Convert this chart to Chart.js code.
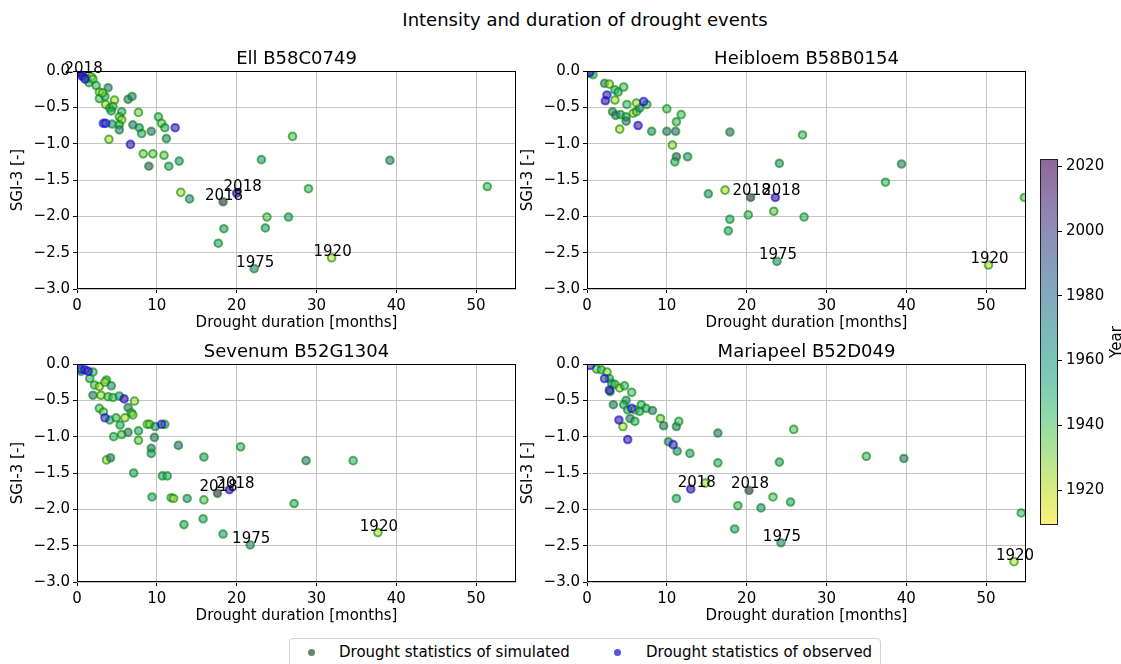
<!DOCTYPE html>
<html>
<head>
<meta charset="utf-8">
<script src="https://cdn.jsdelivr.net/npm/chart.js@4.4.1/dist/chart.umd.min.js"></script>
<style>
  body { margin: 0; width: 1121px; height: 664px; background: #fff; position: relative; overflow: hidden;
         font-family: 'DejaVu Sans', sans-serif; color: #000; }
  .plot { position: absolute; }
  #title { position: absolute; top: 11px; left: 0; width: 1170px; text-align: center; font-size: 18px; line-height: 18px; }
  #legend { position: absolute; left: 289px; top: 638px; width: 592px; height: 40px; border: 1px solid #d0d0d0;
            border-radius: 4px; box-sizing: border-box; }
  #legend .dot { position: absolute; top: 10px; width: 7px; height: 7px; border-radius: 50%; }
  #legend .lt { position: absolute; top: 0; line-height: 27px; font-size: 15px; white-space: nowrap; }
</style>
</head>
<body>
<div id="title">Intensity and duration of drought events</div>

<canvas id="ell" class="plot" width="545" height="290" style="left:0;top:45px"></canvas>
<canvas id="heibloem" class="plot" width="545" height="290" style="left:510px;top:45px"></canvas>
<canvas id="sevenum" class="plot" width="545" height="290" style="left:0;top:338px"></canvas>
<canvas id="mariapeel" class="plot" width="545" height="290" style="left:510px;top:338px"></canvas>
<canvas id="cbar" class="plot" width="91" height="390" style="left:1030px;top:150px"></canvas>

<div id="legend">
  <span class="dot" style="left:18px;background:rgba(40,100,50,0.75)"></span>
  <span class="lt" style="left:49px">Drought statistics of simulated</span>
  <span class="dot" style="left:324px;background:rgba(30,30,200,0.75)"></span>
  <span class="lt" style="left:356px">Drought statistics of observed</span>
</div>

<script>
// colour range of the year colorbar
const cbarMin = 1909.2;
const cbarMax = 2022.3;
const cbarTicks = [1920, 1940, 1960, 1980, 2000, 2020];
// events whose year is written next to the marker
const labelYears = [1920, 1975, 2018];

// [duration (months), SGI-3, year]
const ellSim = [
  [0.7,-0.05,2018],[1.2,-0.10,1985],[1.5,-0.16,1950],[1.8,-0.08,1922],[2.0,-0.11,1935],[2.4,-0.20,1945],
  [2.8,-0.29,1925],[2.8,-0.38,1940],[3.5,-0.35,1950],[3.9,-0.23,1985],[3.2,-0.30,1930],[3.6,-0.46,1921],
  [4.1,-0.51,1945],[4.7,-0.40,1921],[4.5,-0.49,1940],[4.3,-0.55,1955],[5.6,-0.56,1950],[5.3,-0.63,1938],
  [5.6,-0.67,1922],[5.3,-0.74,1948],[5.3,-0.81,1972],[4.4,-0.73,1970],[4.0,-0.94,1921],[6.4,-0.39,1980],
  [6.9,-0.35,1978],[7.7,-0.57,1930],[7.0,-0.74,1985],[7.8,-0.78,1965],[8.1,-0.86,1955],[9.3,-0.83,1990],
  [10.2,-0.63,1945],[10.6,-0.72,1935],[11.0,-0.78,1950],[11.2,-0.93,1974],[8.3,-1.14,1930],[9.5,-1.14,1932],
  [10.9,-1.16,1935],[9.0,-1.31,2000],[11.5,-1.31,1958],[12.8,-1.24,1965],[13.0,-1.67,1923],[14.1,-1.76,1970],
  [18.3,-1.80,2018],[23.1,-1.22,1962],[27.0,-0.90,1940],[29.0,-1.62,1945],[23.8,-2.01,1938],[26.5,-2.01,1960],
  [23.6,-2.16,1958],[18.4,-2.17,1963],[17.7,-2.37,1955],[22.2,-2.72,1975],[31.9,-2.57,1920],[39.2,-1.23,1980],
  [51.4,-1.59,1945]
];
const ellObs = [
  [0.3,-0.02,2005],[0.6,-0.07,2010],[1.0,-0.11,1998],[3.3,-0.72,2003],[3.6,-0.72,1995],[6.7,-1.01,2015],
  [12.3,-0.78,2011],[20.0,-1.68,2018]
];

const heibloemSim = [
  [0.4,-0.03,1960],[0.75,-0.05,1945],[2.2,-0.17,1985],[2.8,-0.18,1922],[3.5,-0.26,1945],[3.9,-0.29,1950],
  [4.6,-0.22,1940],[3.5,-0.40,1921],[3.2,-0.56,1980],[3.6,-0.61,1985],[4.2,-0.60,1965],[4.9,-0.63,1955],
  [4.9,-0.69,1985],[5.0,-0.46,1945],[5.8,-0.58,1922],[6.2,-0.56,1935],[6.6,-0.51,1974],[6.2,-0.44,1923],
  [7.5,-0.46,1945],[4.1,-0.80,1921],[8.1,-0.83,1970],[10.0,-0.52,1940],[10.0,-0.83,1985],[11.1,-0.83,1990],
  [11.2,-0.70,1945],[11.8,-0.60,1942],[10.7,-1.02,1924],[11.2,-1.18,2000],[11.0,-1.25,1950],[12.6,-1.18,1965],
  [15.2,-1.69,1970],[17.3,-1.64,1921],[17.9,-0.84,1985],[20.5,-1.74,2018],[23.4,-1.93,1935],[20.2,-1.98,1945],
  [17.9,-2.04,1955],[17.7,-2.20,1958],[24.1,-1.27,1965],[27.0,-0.88,1945],[27.2,-2.01,1948],[23.8,-2.62,1975],
  [37.4,-1.53,1945],[39.4,-1.28,1980],[54.8,-1.74,1940],[50.3,-2.67,1920]
];
const heibloemObs = [
  [0.3,-0.02,2000],[2.5,-0.33,2010],[2.3,-0.41,2015],[7.1,-0.42,1998],[6.4,-0.75,2012],[23.6,-1.74,2018]
];

const sevenumSim = [
  [0.5,-0.10,1945],[2.0,-0.11,1945],[1.6,-0.20,1950],[2.2,-0.29,1940],[2.8,-0.31,1922],[2.0,-0.43,1985],
  [3.0,-0.43,1921],[3.7,-0.22,1945],[3.5,-0.25,1923],[4.3,-0.30,1970],[3.9,-0.45,1940],[4.5,-0.46,1945],
  [5.3,-0.44,1955],[7.2,-0.51,1922],[2.8,-0.61,1940],[3.3,-0.66,1935],[4.1,-0.77,1950],[4.9,-0.74,1945],
  [5.4,-0.84,1955],[6.0,-0.74,1921],[6.4,-0.60,1985],[6.8,-0.67,1942],[7.0,-0.70,1930],[4.6,-1.00,1950],
  [5.6,-0.97,1940],[6.4,-0.94,1985],[7.7,-0.92,1955],[7.7,-1.05,1935],[8.8,-0.83,1921],[9.1,-0.83,1935],
  [9.8,-0.86,1965],[11.0,-0.83,1950],[9.7,-1.01,1985],[9.3,-1.16,1980],[9.3,-1.23,1965],[12.7,-1.12,1990],
  [3.7,-1.32,1922],[4.2,-1.29,1985],[7.1,-1.50,1960],[10.7,-1.54,1955],[11.3,-1.54,1950],[9.4,-1.83,1955],
  [11.8,-1.84,1935],[12.1,-1.85,1924],[13.8,-1.85,1965],[13.4,-2.21,1955],[15.9,-1.87,1938],[15.8,-2.13,1955],
  [15.9,-1.28,1958],[17.6,-1.78,2018],[18.3,-2.34,1958],[21.7,-2.49,1975],[20.5,-1.14,1945],[27.2,-1.92,1950],
  [28.7,-1.33,1980],[34.6,-1.33,1948],[37.7,-2.32,1920]
];
const sevenumObs = [
  [0.5,-0.07,2000],[1.0,-0.08,1995],[1.4,-0.10,2005],[5.9,-0.48,2015],[3.5,-0.74,1998],[10.6,-0.83,2003],
  [19.1,-1.73,2018]
];

const mariapeelSim = [
  [1.2,-0.07,1935],[1.8,-0.08,1945],[2.5,-0.11,1923],[2.8,-0.20,1950],[3.1,-0.27,1955],[3.5,-0.28,1945],
  [2.9,-0.38,1965],[4.1,-0.33,1921],[4.7,-0.30,1945],[3.3,-0.56,1985],[5.6,-0.39,1942],[4.9,-0.50,1970],
  [4.6,-0.56,1955],[5.1,-0.63,1950],[6.0,-0.63,1922],[6.8,-0.56,1945],[7.4,-0.61,1950],[6.6,-0.65,1955],
  [8.2,-0.64,1985],[4.5,-0.86,1921],[5.4,-0.75,1985],[6.0,-0.79,1950],[9.2,-0.75,1930],[9.6,-0.85,1985],
  [11.2,-0.86,1985],[11.5,-0.79,1945],[10.2,-1.07,1980],[11.3,-1.20,1974],[12.9,-1.23,1960],[16.4,-0.95,1985],
  [16.4,-1.36,1950],[24.1,-1.35,1960],[25.9,-0.90,1940],[14.8,-1.64,1922],[11.2,-1.85,1955],[20.3,-1.74,2018],
  [18.9,-1.95,1945],[23.3,-1.83,1940],[21.8,-1.98,1965],[25.5,-1.90,1955],[18.5,-2.27,1955],[24.3,-2.46,1975],
  [35.0,-1.27,1945],[39.7,-1.30,1985],[54.4,-2.05,1945],[53.5,-2.72,1920]
];
const mariapeelObs = [
  [0.4,-0.02,2000],[2.2,-0.20,1995],[2.8,-0.36,2008],[5.6,-0.61,1998],[4.0,-0.77,2015],[5.1,-1.04,2014],
  [10.8,-1.11,2003],[13.0,-1.72,2018]
];

const FONT = "'DejaVu Sans', sans-serif";
Chart.defaults.font.family = FONT;
Chart.defaults.font.size = 15;
Chart.defaults.color = '#000';

// viridis, reversed for the year colours
const VIRIDIS = ['#440154','#482475','#414487','#355f8d','#2a788e','#21918c','#22a884','#44bf70','#7ad151','#bddf26','#fde725'];
function hexRgb(h) { return [1, 3, 5].map(i => parseInt(h.substr(i, 2), 16)); }
function viridis(t) {
  t = Math.min(1, Math.max(0, t));
  const p = t * 10, i = Math.min(9, Math.floor(p)), f = p - i;
  const a = hexRgb(VIRIDIS[i]), b = hexRgb(VIRIDIS[i + 1]);
  return a.map((v, k) => Math.round(v + (b[k] - v) * f));
}
function yearColor(year, alpha) {
  const c = viridis(1 - (year - cbarMin) / (cbarMax - cbarMin));
  return `rgba(${c[0]},${c[1]},${c[2]},${alpha})`;
}
const fmtSgi = v => v === 0 ? '0.0' : '\u2212' + Math.abs(v).toFixed(1);

// frame, subplot title and year annotations
const subplotDecor = {
  id: 'subplotDecor',
  afterDatasetsDraw(chart) {
    const ctx = chart.ctx, ca = chart.chartArea;
    ctx.save();
    ctx.font = '15px ' + FONT;
    ctx.fillStyle = '#000';
    ctx.textAlign = 'center';
    ctx.textBaseline = 'alphabetic';
    chart.data.datasets.forEach((ds, d) => {
      const meta = chart.getDatasetMeta(d);
      ds.data.forEach((p, i) => {
        if (!labelYears.includes(p.year)) return;
        const el = meta.data[i];
        ctx.fillText(String(p.year), el.x + ds.labelDx, el.y - 2);
      });
    });
    ctx.strokeStyle = '#000';
    ctx.lineWidth = 1;
    ctx.strokeRect(Math.round(ca.left) + 0.5, Math.round(ca.top) + 0.5,
                   Math.round(ca.right - ca.left) - 1, Math.round(ca.bottom - ca.top) - 1);
    ctx.font = '18px ' + FONT;
    ctx.fillText(chart.options.plugins.subplotDecor.title, (ca.left + ca.right) / 2, 18.5);
    ctx.restore();
  }
};

function subplot(id, title, sim, obs) {
  const series = (rows, edge, order, labelDx) => ({
    data: rows.map(r => ({ x: r[0], y: r[1], year: r[2] })),
    backgroundColor: rows.map(r => yearColor(r[2], 0.6)),
    borderColor: edge,
    borderWidth: 2,
    pointRadius: 3.8,
    order: order,
    clip: 0,
    labelDx: labelDx
  });
  const grid = { color: '#c4c4c4', tickColor: '#000', tickLength: 4, lineWidth: 1 };
  new Chart(document.getElementById(id), {
    type: 'scatter',
    data: {
      datasets: [
        series(sim, 'rgba(0,128,0,0.6)', 2, 1),
        series(obs, 'rgba(0,0,255,0.6)', 1, 6)
      ]
    },
    options: {
      responsive: false,
      animation: false,
      layout: { padding: { top: 26, right: 29, left: 0, bottom: 0 } },
      plugins: { legend: { display: false }, tooltip: { enabled: false }, subplotDecor: { title } },
      scales: {
        x: {
          type: 'linear', min: 0, max: 55,
          afterFit(s) { s.height = 46; },
          ticks: { stepSize: 10, includeBounds: false, padding: 4, callback: v => String(v) },
          grid, border: { display: false },
          title: { display: true, text: 'Drought duration [months]', padding: { top: 0, bottom: 3 } }
        },
        y: {
          min: -3, max: 0,
          afterFit(s) { s.width = 77; },
          ticks: { stepSize: 0.5, padding: 3, callback: fmtSgi },
          grid, border: { display: false },
          title: { display: true, text: 'SGI-3 [-]', padding: { top: 9, bottom: 0 } }
        }
      }
    },
    plugins: [subplotDecor]
  });
}

subplot('ell', 'Ell B58C0749', ellSim, ellObs);
subplot('heibloem', 'Heibloem B58B0154', heibloemSim, heibloemObs);
subplot('sevenum', 'Sevenum B52G1304', sevenumSim, sevenumObs);
subplot('mariapeel', 'Mariapeel B52D049', mariapeelSim, mariapeelObs);

// colorbar: gradient drawn against the library's own y scale
const colorbarFill = {
  id: 'colorbarFill',
  beforeDatasetsDraw(chart) {
    const ctx = chart.ctx, ca = chart.chartArea, ys = chart.scales.y;
    const g = ctx.createLinearGradient(0, ca.bottom, 0, ca.top);
    for (let k = 0; k <= 40; k++) {
      const yr = cbarMin + (cbarMax - cbarMin) * k / 40;
      g.addColorStop((ys.getPixelForValue(yr) - ca.bottom) / (ca.top - ca.bottom), yearColor(yr, 0.6));
    }
    ctx.save();
    ctx.fillStyle = g;
    ctx.fillRect(ca.left, ca.top, ca.right - ca.left, ca.bottom - ca.top);
    ctx.strokeStyle = '#222';
    ctx.lineWidth = 1;
    ctx.strokeRect(Math.round(ca.left) + 0.5, Math.round(ca.top) + 0.5,
                   Math.round(ca.right - ca.left) - 1, Math.round(ca.bottom - ca.top) - 1);
    ctx.translate(87, (ca.top + ca.bottom) / 2);
    ctx.rotate(-Math.PI / 2);
    ctx.font = '15px ' + FONT;
    ctx.fillStyle = '#000';
    ctx.textAlign = 'center';
    ctx.textBaseline = 'middle';
    ctx.fillText('Year', 0, 0);
    ctx.restore();
  }
};

new Chart(document.getElementById('cbar'), {
  type: 'scatter',
  data: { datasets: [] },
  options: {
    responsive: false,
    animation: false,
    layout: { padding: { left: 10, top: 9, bottom: 15, right: 0 } },
    plugins: { legend: { display: false }, tooltip: { enabled: false } },
    scales: {
      x: { display: false, min: 0, max: 1 },
      y: {
        position: 'right', min: cbarMin, max: cbarMax,
        afterFit(s) { s.width = 63; s.paddingTop = 0; s.paddingBottom = 0; },
        afterBuildTicks(s) { s.ticks = cbarTicks.map(v => ({ value: v })); },
        ticks: { padding: 4, callback: v => String(v) },
        grid: { drawOnChartArea: false, tickColor: '#000', tickLength: 4 },
        border: { display: false }
      }
    }
  },
  plugins: [colorbarFill]
});
</script>
</body>
</html>
